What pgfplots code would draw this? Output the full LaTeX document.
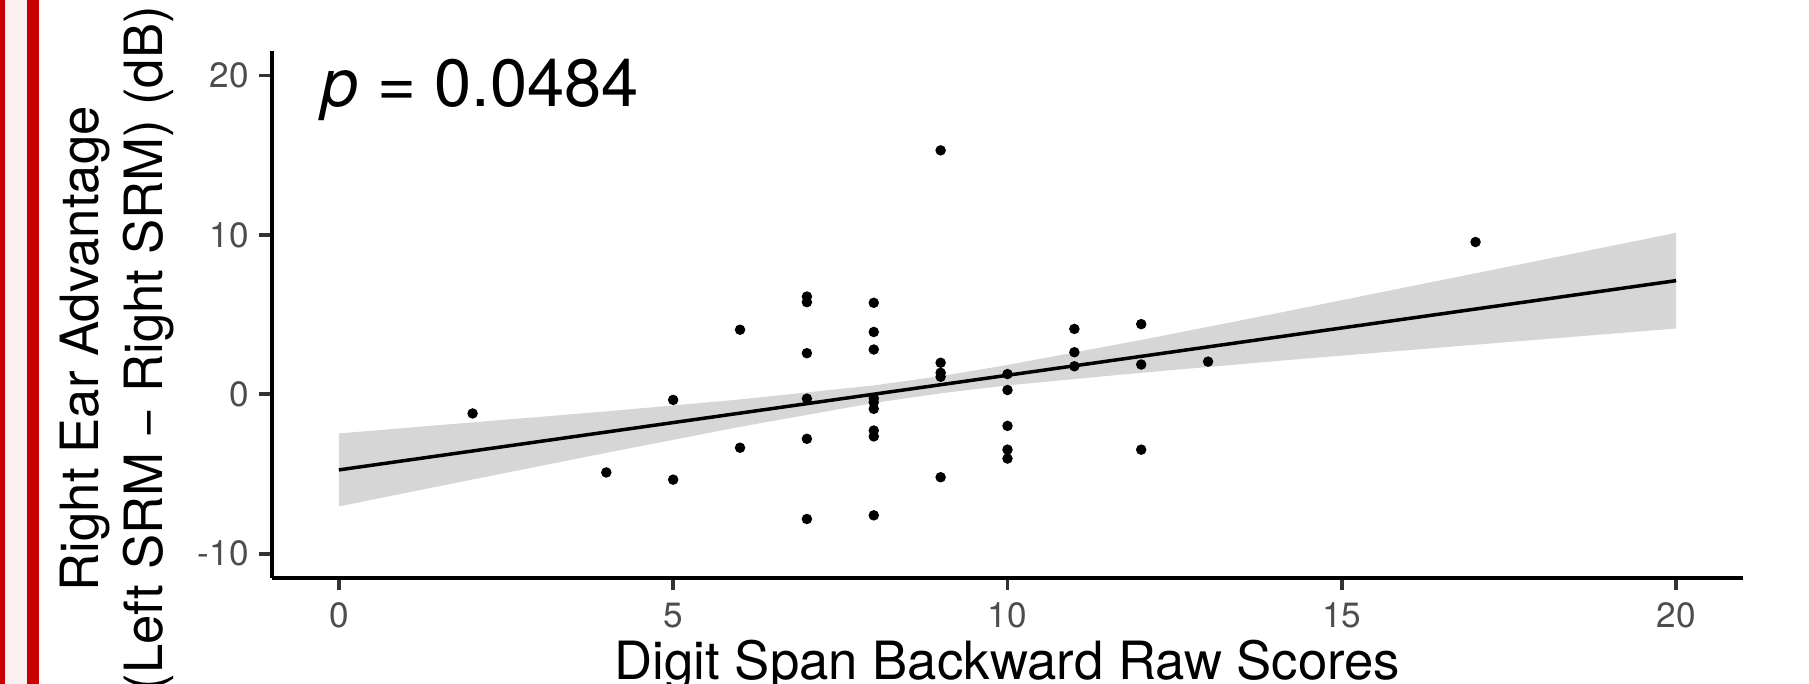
\documentclass[border=0pt]{standalone}
\usepackage{fontspec}
\setmainfont{TeX Gyre Heros}
\usepackage{pgfplots}
\pgfplotsset{compat=1.18}

\definecolor{tickgray}{RGB}{51,51,51}
\definecolor{labgray}{RGB}{77,77,77}
\definecolor{bandgray}{RGB}{153,153,153}
\definecolor{edgered}{RGB}{200,0,0}
\definecolor{edgepink}{RGB}{250,240,240}

\begin{document}
\begin{tikzpicture}
% page is 1809 x 684 px, 1 px = 0.1 mm
\useasboundingbox (0,0) rectangle (180.9mm,68.4mm);
\clip (0,0) rectangle (180.9mm,68.4mm);

% red page edge left of the figure
\fill[edgered] (0,0) rectangle (0.5mm,68.4mm);
\fill[edgepink] (0.5mm,0) rectangle (2.7mm,68.4mm);
\fill[edgered] (2.7mm,0) rectangle (3.9mm,68.4mm);

\begin{axis}[
    scale only axis,
    width=147.1mm, height=52.62mm,
    anchor=south west, at={(27.2mm,10.63mm)},
    xmin=-1, xmax=21, ymin=-11.5, ymax=21.5,
    axis x line=bottom, axis y line=left,
    axis line style={-, line width=0.42mm, black},
    xtick={0,5,10,15,20}, xticklabels={0,5,10,15,20},
    ytick={-10,0,10,20}, yticklabels={-10,0,10,20},
    tick align=outside, major tick length=1.26mm,
    tick style={line width=0.38mm, tickgray},
    ticklabel style={font=\fontsize{10}{12}\selectfont, text=labgray, inner sep=0pt},
    yticklabel style={xshift=-1mm},
    xticklabel style={yshift=-1.2mm},
    clip=false
]
% observations
\addplot[only marks, mark=*, mark size=0.45mm, black] table {
x y
2 -1.2
4 -4.9
5 -0.35
5 -5.35
6 4.05
6 -3.35
7 6.13
7 5.78
7 2.58
7 -0.27
7 -2.79
7 -7.82
8 5.74
8 3.91
8 2.81
8 -0.25
8 -0.5
8 -0.91
8 -2.27
8 -2.64
8 -7.59
9 15.3
9 1.98
9 1.35
9 1.1
9 -5.2
10 1.27
10 0.27
10 -1.98
10 -3.47
10 -4.03
11 4.1
11 2.64
11 1.76
12 4.4
12 1.87
12 -3.47
13 2.05
17 9.55
};
% confidence band, drawn over the points like geom_smooth
\addplot[draw=none, fill=bandgray, fill opacity=0.4] coordinates {
(0,-2.45) (2,-1.76) (4,-1.07) (6,-0.32) (8,0.56) (9,1.14) (10,1.84)
(12,3.41) (14,5.06) (16,6.75) (18,8.43) (20,10.13)
(20,4.13) (18,3.45) (16,2.77) (14,2.08) (12,1.35) (10,0.56) (9,0.06)
(8,-0.54) (6,-2.04) (4,-3.67) (2,-5.34) (0,-7.03)
} -- cycle;
% fitted line
\addplot[black, line width=0.35mm] coordinates {(0,-4.74) (20,7.13)};
\end{axis}

\node[anchor=base west, font=\fontsize{19}{22}\selectfont] at (30.9mm,57.7mm) {\textit{p} = 0.0484};
\node[rotate=90, anchor=base, font=\fontsize{15}{18}\selectfont] at (9.83mm,33.53mm) {Right Ear Advantage};
\node[rotate=90, anchor=base, font=\fontsize{15}{18}\selectfont] at (16.27mm,33.53mm) {(Left SRM − Right SRM) (dB)};
\node[anchor=base, font=\fontsize{15}{18}\selectfont] at (100.75mm,0.41mm) {Digit Span Backward Raw Scores};
\end{tikzpicture}
\end{document}
